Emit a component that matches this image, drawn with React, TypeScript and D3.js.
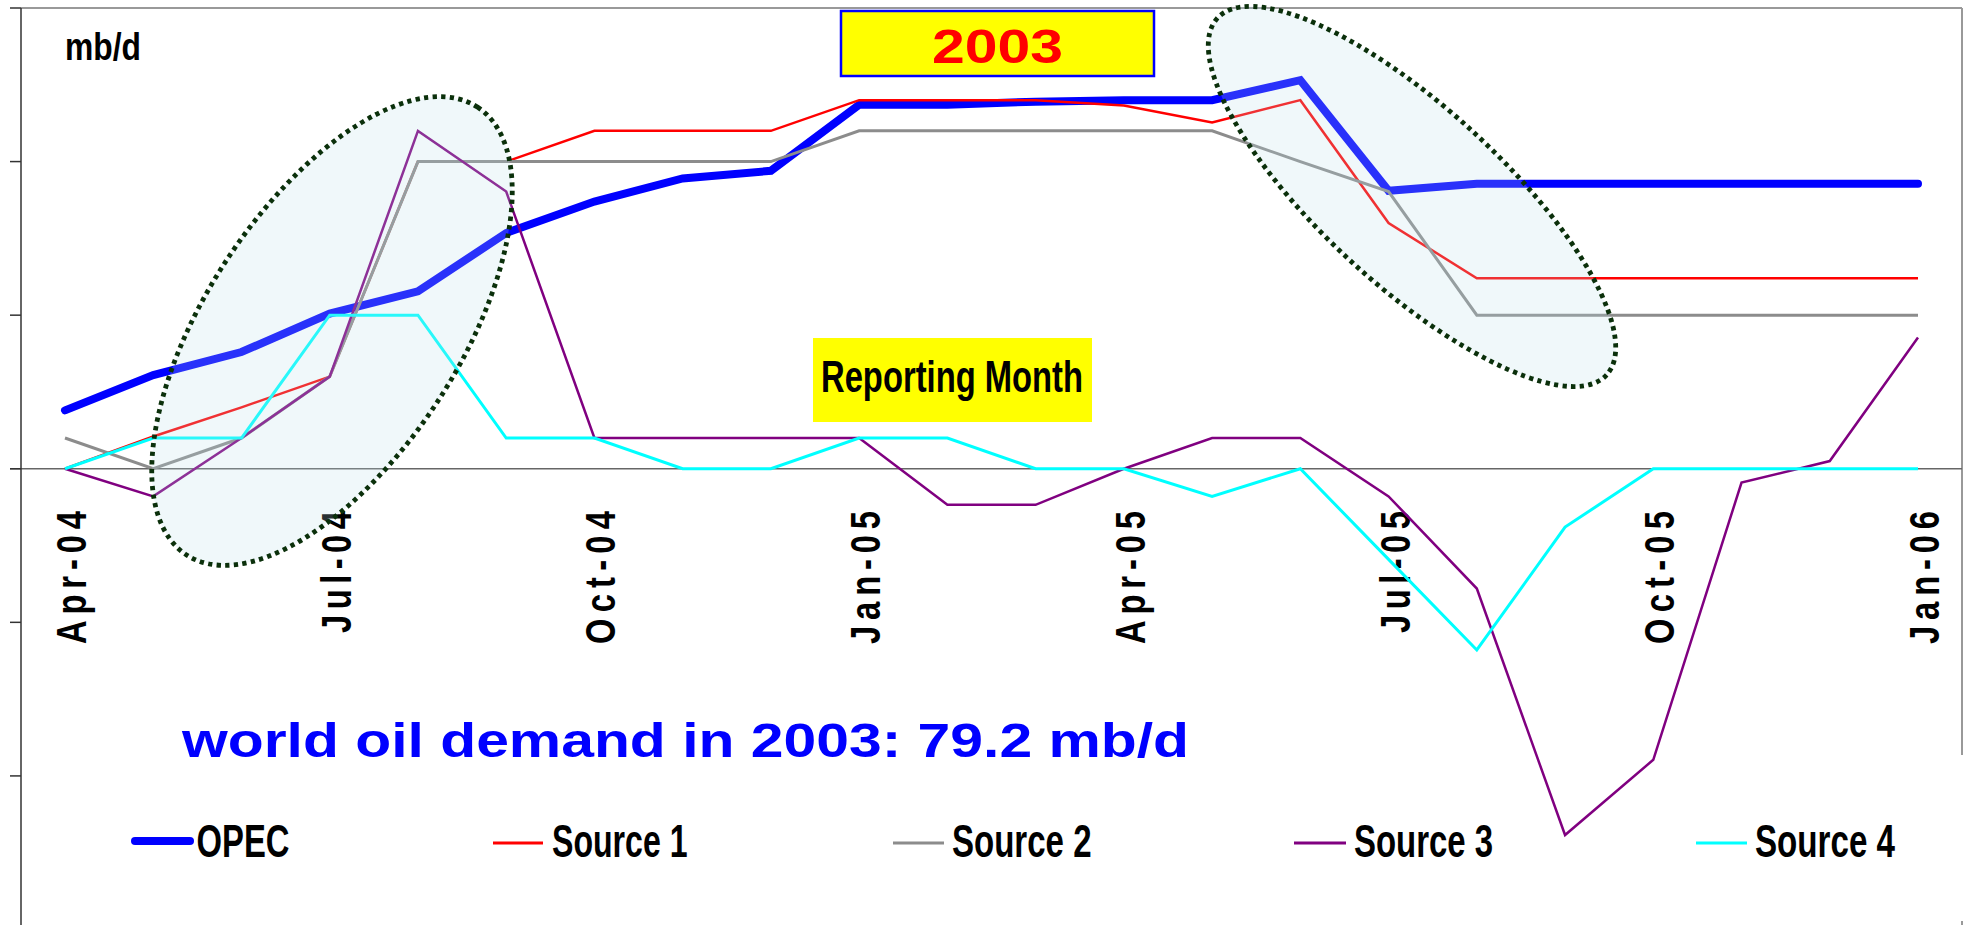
import React from "react";
import * as d3 from "d3";

const months = [
  "Apr-04", "May-04", "Jun-04", "Jul-04", "Aug-04", "Sep-04", "Oct-04", "Nov-04",
  "Dec-04", "Jan-05", "Feb-05", "Mar-05", "Apr-05", "May-05", "Jun-05", "Jul-05",
  "Aug-05", "Sep-05", "Oct-05", "Nov-05", "Dec-05", "Jan-06",
];

const tickLabels = ["Apr-04", "Jul-04", "Oct-04", "Jan-05", "Apr-05", "Jul-05", "Oct-05", "Jan-06"];

// revisions of 2003 world oil demand estimate, mb/d
const opec = [0.076, 0.122, 0.152, 0.202, 0.231, 0.307, 0.348, 0.378, 0.388, 0.474, 0.474, 0.478, 0.48, 0.48, 0.506, 0.362, 0.371, 0.371, 0.371, 0.371, 0.371, 0.371];
const source1 = [0, 0.042, 0.08, 0.12, 0.4, 0.4, 0.44, 0.44, 0.44, 0.48, 0.48, 0.48, 0.473, 0.451, 0.48, 0.32, 0.248, 0.248, 0.248, 0.248, 0.248, 0.248];
const source2 = [0.04, 0, 0.04, 0.12, 0.4, 0.4, 0.4, 0.4, 0.4, 0.44, 0.44, 0.44, 0.44, 0.44, 0.4, 0.361, 0.2, 0.2, 0.2, 0.2, 0.2, 0.2];
const source3 = [0, -0.036, 0.04, 0.12, 0.44, 0.361, 0.04, 0.04, 0.04, 0.04, -0.047, -0.047, 0, 0.04, 0.04, -0.036, -0.156, -0.477, -0.379, -0.018, 0.01, 0.171];
const source4 = [0, 0.04, 0.04, 0.2, 0.2, 0.04, 0.04, 0, 0, 0.04, 0.04, 0, 0, -0.036, 0, -0.118, -0.236, -0.076, 0, 0, 0, 0];

const yTicks = [-0.4, -0.2, 0, 0.2, 0.4, 0.6];

const seriesNames = ["OPEC", "Source 1", "Source 2", "Source 3", "Source 4"];
const seriesColors = ["#0000FF", "#FF0000", "#8C8C8C", "#800080", "#00FFFF"];
const seriesWidths = [8, 2.5, 3, 2.5, 3];
const seriesValues = [opec, source1, source2, source3, source4];

const FONT = "'Liberation Sans', Arial, Helvetica, sans-serif";

export default function App() {
  const W = 1969;
  const H = 925;
  const x = d3.scalePoint<string>().domain(months).range([65, 1918]);
  const y = d3.scaleLinear().domain([-0.6, 0.6]).range([929.5, 8]);
  const line = d3
    .line<number>()
    .x((_, i) => x(months[i]) as number)
    .y((d) => y(d));

  const axisX = 21;
  const rightX = 1962;
  const glyphSqueeze = 0.78;

  const legendX = [
    { line: [135, 190], text: 196.5, w: 93 },
    { line: [493, 543], text: 552, w: 135.5 },
    { line: [893, 944], text: 952, w: 139.5 },
    { line: [1294, 1346], text: 1354, w: 139 },
    { line: [1696, 1747], text: 1755, w: 140 },
  ];

  return (
    <svg
      width={W}
      height={H}
      style={{ position: "absolute", left: 0, top: 0, background: "#fff" }}
      fontFamily={FONT}
    >
      <rect x={0} y={0} width={W} height={H} fill="#fff" />
      {/* plot borders */}
      <line x1={axisX} x2={rightX} y1={y(0.6)} y2={y(0.6)} stroke="#999" strokeWidth={2} />
      <line x1={rightX} x2={rightX} y1={y(0.6)} y2={755} stroke="#999" strokeWidth={2} />
      <line x1={rightX} x2={rightX} y1={921} y2={925} stroke="#999" strokeWidth={2} />
      {/* zero line */}
      <line x1={10} x2={rightX} y1={y(0)} y2={y(0)} stroke="#666" strokeWidth={1.6} />
      {/* y axis */}
      <line x1={axisX} x2={axisX} y1={y(0.6)} y2={H} stroke="#333" strokeWidth={1.5} />
      {yTicks.map((t) => (
        <line key={t} x1={10} x2={axisX} y1={y(t)} y2={y(t)} stroke="#333" strokeWidth={1.5} />
      ))}

      {/* x tick labels */}
      {tickLabels.map((lbl) => {
        const px = (x(lbl) as number) + 21;
        const natural = lbl.startsWith("J") && lbl.includes("u") ? 122 : 133;
        return (
          <text
            key={lbl}
            transform={`translate(${px},511) rotate(-90) scale(${glyphSqueeze},1)`}
            textAnchor="end"
            fontSize={42}
            fontWeight="bold"
            fill="#000"
            textLength={natural / glyphSqueeze}
            lengthAdjust="spacing"
          >
            {lbl}
          </text>
        );
      })}

      {/* series */}
      {seriesValues.map((vals, k) => (
        <path
          key={seriesNames[k]}
          d={line(vals) || ""}
          fill="none"
          stroke={seriesColors[k]}
          strokeWidth={seriesWidths[k]}
          strokeLinejoin="miter"
          strokeLinecap={k === 0 ? "round" : "butt"}
        />
      ))}

      {/* highlight ellipses */}
      <g>
        <ellipse
          cx={332}
          cy={331}
          rx={267}
          ry={127}
          transform="rotate(-57 332 331)"
          fill="rgb(187,223,232)"
          fillOpacity={0.22}
          stroke="#0B300B"
          strokeWidth={4.8}
          strokeDasharray="4.3 4.3"
        />
        <ellipse
          cx={1412}
          cy={196.5}
          rx={264}
          ry={89}
          transform="rotate(42.5 1412 196.5)"
          fill="rgb(187,223,232)"
          fillOpacity={0.22}
          stroke="#0B300B"
          strokeWidth={4.8}
          strokeDasharray="4.3 4.3"
        />
      </g>

      {/* unit label */}
      <text x={65} y={60} fontSize={39} fontWeight="bold" textLength={76} lengthAdjust="spacingAndGlyphs">
        mb/d
      </text>

      {/* 2003 box */}
      <rect x={841} y={11} width={313} height={65} fill="#FFFF00" stroke="#0000FF" strokeWidth={2.5} />
      <text x={932} y={63} fontSize={49} fontWeight="bold" fill="#FF0000" textLength={131} lengthAdjust="spacingAndGlyphs">
        2003
      </text>

      {/* Reporting Month */}
      <rect x={813} y={338} width={279} height={84} fill="#FFFF00" />
      <text x={821} y={392} fontSize={44} fontWeight="bold" fill="#000" textLength={262} lengthAdjust="spacingAndGlyphs">
        Reporting Month
      </text>

      {/* world demand note */}
      <text x={182} y={757} fontSize={49} fontWeight="bold" fill="#0000FF" textLength={1007} lengthAdjust="spacingAndGlyphs">
        world oil demand in 2003: 79.2 mb/d
      </text>

      {/* legend */}
      {seriesNames.map((name, k) => (
        <g key={name}>
          <line
            x1={legendX[k].line[0]}
            x2={legendX[k].line[1]}
            y1={k === 0 ? 841 : 843}
            y2={k === 0 ? 841 : 843}
            stroke={seriesColors[k]}
            strokeWidth={k === 0 ? 8 : 3}
            strokeLinecap={k === 0 ? "round" : "butt"}
          />
          <text
            x={legendX[k].text}
            y={856.5}
            fontSize={46}
            fontWeight="bold"
            fill="#000"
            textLength={legendX[k].w}
            lengthAdjust="spacingAndGlyphs"
          >
            {name}
          </text>
        </g>
      ))}
    </svg>
  );
}
